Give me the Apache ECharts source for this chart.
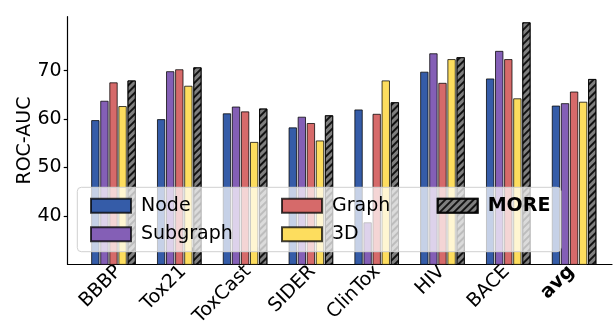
<!DOCTYPE html>
<html>
<head>
<meta charset="utf-8">
<script src="https://cdn.jsdelivr.net/npm/echarts@6/dist/echarts.min.js"></script>
<style>html,body{margin:0;padding:0;background:#fff;}#c{width:613px;height:329px;}</style>
</head>
<body>
<div id="c"></div>
<script>
const categories = ['BBBP','Tox21','ToxCast','SIDER','ClinTox','HIV','BACE','avg'];
const nodeVals     = [59.8, 60.0, 61.2, 58.3, 62.0, 69.8, 68.4, 62.8];
const subgraphVals = [63.8, 69.9, 62.6, 60.5, 38.7, 73.6, 74.1, 63.3];
const graphVals    = [67.6, 70.3, 61.6, 59.2, 61.1, 67.5, 72.4, 65.7];
const d3Vals       = [62.7, 66.9, 55.3, 55.6, 68.0, 72.4, 64.3, 63.6];
const moreVals     = [68.0, 70.7, 62.2, 60.8, 63.5, 72.8, 80.0, 68.3];
const yTicks = [40, 50, 60, 70];
const yMin = 30, yMax = 81.15;

const FONT = 'DejaVu Sans';
const FS = 19;
const edge = 'rgba(0,0,0,0.75)';

const chart = echarts.init(document.getElementById('c'), null, {renderer: 'canvas'});

function barSeries(name, data, color, extra) {
  return Object.assign({
    name: name,
    type: 'bar',
    xAxisIndex: 1,
    yAxisIndex: 1,
    data: data,
    barWidth: 8.4,
    barGap: '0%',
    itemStyle: {color: color, borderColor: edge, borderWidth: 1},
    emphasis: {disabled: true},
    animation: false
  }, extra || {});
}

const legendBase = {
  orient: 'vertical',
  top: 191.3,
  itemWidth: 40,
  itemHeight: 14,
  itemGap: 9.4,
  icon: 'rect',
  selectedMode: false,
  formatter: function (n) { return '{a|' + n + '}'; },
  textStyle: {
    fontFamily: FONT, fontSize: FS, color: '#000',
    rich: {a: {fontFamily: FONT, fontSize: FS, color: '#000', padding: [0, 0, 0, 5]}}
  }
};

const option = {
  backgroundColor: '#fff',
  animation: false,
  grid: [
    {left: 67.7, right: 1, top: 16.7, bottom: 64.6},
    {left: 80.6, width: 526.4, top: 16.7, bottom: 64.6},
    {left: 95.4, width: 526.4, top: 16.7, bottom: 64.6}
  ],
  xAxis: [
    {gridIndex: 0, type: 'value', min: 0, max: 1,
     axisLine: {show: true, lineStyle: {color: '#000', width: 1.2}},
     axisTick: {show: false}, axisLabel: {show: false}, splitLine: {show: false}},
    {gridIndex: 1, type: 'category', data: categories,
     axisLine: {show: false}, axisTick: {show: false}, axisLabel: {show: false}},
    {gridIndex: 2, type: 'category', data: categories,
     axisLine: {show: false},
     axisTick: {show: true, alignWithLabel: true, length: 4, lineStyle: {color: '#000', width: 1.2}},
     axisLabel: {
       rotate: 45, margin: 12, interval: 0,
       fontFamily: FONT, fontSize: FS, color: '#000',
       formatter: function (v) { return v === 'avg' ? '{b|avg}' : '{n|' + v + '}'; },
       rich: {
         n: {fontFamily: FONT, fontSize: FS, color: '#000', padding: [0, 13, 0, 0]},
         b: {fontFamily: FONT, fontSize: FS, fontWeight: 'bold', color: '#000', padding: [0, 13, 0, 0]}
       }
     }}
  ],
  yAxis: [
    {gridIndex: 0, type: 'value', min: yMin, max: yMax,
     name: 'ROC-AUC', nameLocation: 'middle', nameGap: 33, nameMoveOverlap: false,
     nameTextStyle: {fontFamily: FONT, fontSize: FS, color: '#000'},
     axisLine: {show: true, lineStyle: {color: '#000', width: 1.2}},
     axisTick: {show: true, length: 4, customValues: yTicks, lineStyle: {color: '#000', width: 1.2}},
     axisLabel: {customValues: yTicks, margin: 6, fontFamily: FONT, fontSize: FS, color: '#000'},
     splitLine: {show: false}},
    {gridIndex: 1, type: 'value', min: yMin, max: yMax, show: false, splitLine: {show: false}},
    {gridIndex: 2, type: 'value', min: yMin, max: yMax, show: false, splitLine: {show: false}}
  ],
  legend: [
    Object.assign({}, legendBase, {left: 85, data: ['Node', 'Subgraph']}),
    Object.assign({}, legendBase, {left: 276, data: ['Graph', '3D']}),
    Object.assign({}, legendBase, {left: 431.7, data: ['MORE'],
      textStyle: {fontFamily: FONT, fontSize: FS, color: '#000',
        rich: {a: {fontFamily: FONT, fontSize: FS, fontWeight: 'bold', color: '#000', padding: [0, 0, 0, 5]}}}})
  ],
  graphic: [{
    type: 'rect', z: 3, silent: true,
    shape: {x: 77.3, y: 187.3, width: 483.7, height: 64.4, r: 4},
    style: {fill: 'rgba(255,255,255,0.72)', stroke: '#d0d0d0', lineWidth: 1}
  }],
  series: [
    barSeries('Node', nodeVals, '#355ca8'),
    barSeries('Subgraph', subgraphVals, '#845fb6'),
    barSeries('Graph', graphVals, '#d66a6a'),
    barSeries('3D', d3Vals, '#fddd5e'),
    barSeries('MORE', moreVals, '#7f7f7f', {
      barGap: '8%',
      itemStyle: {
        color: '#7f7f7f', borderColor: edge, borderWidth: 1,
        decal: {symbol: 'rect', symbolSize: 1, dashArrayX: [1, 0], dashArrayY: [1.2, 2.4],
                rotation: -Math.PI / 4, color: 'rgba(0,0,0,0.85)'}
      }
    })
  ]
};
chart.setOption(option);
</script>
</body>
</html>
